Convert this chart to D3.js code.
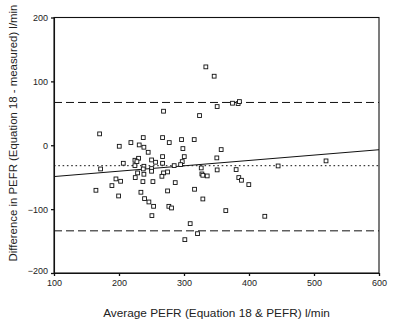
<!DOCTYPE html>
<html><head><meta charset="utf-8">
<script src="https://cdn.jsdelivr.net/npm/d3@7"></script>
<style>html,body{margin:0;padding:0;background:#fff;}svg{display:block;}</style>
</head><body>
<svg id="c" width="400" height="327"></svg>
<script>
const avgPEFR = [333.6,346.4,268.5,323.9,351,374.6,383.3,385.3,170.2,200.4,218.3,237.3,267,277.3,296.2,315.7,298.3,357.2,231.1,238.3,244.9,267,300.4,350.5,230.1,224.5,227.6,250.1,256.2,267,297.3,294.8,224.5,238.3,206.6,284.9,171.7,237.3,250.1,326.5,327.5,329,335.7,351,380.2,228.6,238.3,250.1,268.5,266,274.7,384.3,388.4,399.7,444.8,518.5,225,195.3,202.5,236.8,252.2,286.5,189.1,164.5,274.7,233.7,316.2,199.4,239.3,246,329,253.2,276.7,280.8,364.3,250.6,424.3,309.5,320.8,301.3];
const diffPEFR = [122.7,108.1,53.3,46.5,60.6,65.8,65.3,68.4,17.8,-1.6,4.2,12,12,4.2,8.9,8.9,-5.2,-6.8,0.5,-3.1,-11,-17.8,-17.8,-19.8,-20.4,-23.5,-25.6,-23,-26.6,-28.2,-25.6,-30.3,-31.9,-32.9,-28.2,-31.9,-37.1,-37.1,-36.5,-35.5,-44.9,-47,-48,-38.6,-38.1,-43.3,-45.4,-40.7,-43.3,-48.6,-41.8,-50.6,-54.8,-61.6,-32.4,-24.5,-50.6,-52.7,-56.4,-56.9,-56.9,-58.5,-63.2,-70.5,-71.5,-73.6,-68.9,-79.4,-83.6,-88.8,-84.1,-95.6,-95.6,-98.2,-102.3,-110.2,-111.2,-122.7,-138.4,-147.8];
const meanDiff = -32;
const upperLimit = 67;
const lowerLimit = -134;
const regX = [100, 600];
const regY = [-49, -7];
const xTicks = [100,200,300,400,500,600];
const yTicks = [200,100,0,-100,-200];
const xTitle = "Average PEFR (Equation 18 & PEFR) l/min";
const yTitle = "Difference in PEFR (Equation 18 - measured) l/min";

const svg = d3.select("#c");
const L = 54, R = 379, T = 17.5, B = 273;
const x = d3.scaleLinear().domain([100,600]).range([L,R]);
const y = d3.scaleLinear().domain([-200,200]).range([B,T]);
const font = "Liberation Sans, Arial, sans-serif";
const tc = "#222";

// frame
svg.append("rect").attr("x",L).attr("y",T).attr("width",R-L).attr("height",B-T)
  .attr("fill","none").attr("stroke","#111").attr("stroke-width",1.1);

// axes
const xa = svg.append("g").attr("transform",`translate(0,${B})`)
  .call(d3.axisBottom(x).tickValues(xTicks).tickSize(3).tickPadding(4).tickSizeOuter(0));
const ya = svg.append("g").attr("transform",`translate(${L},0)`)
  .call(d3.axisLeft(y).tickValues(yTicks).tickSize(3).tickPadding(3).tickSizeOuter(0));
[xa,ya].forEach(a=>{
  a.select(".domain").attr("stroke","#111").attr("stroke-width",1.1);
  a.selectAll(".tick line").attr("stroke","#111").attr("stroke-width",1.3);
  a.selectAll("text").attr("font-family",font).attr("font-size",9).attr("fill",tc);
});
ya.selectAll(".tick").filter(d=>d===-200).select("text").attr("dy","0.05em");

// reference lines
const hline = (v, dash) => svg.append("line")
  .attr("x1",x(100)).attr("x2",x(600)).attr("y1",y(v)).attr("y2",y(v))
  .attr("stroke","#111").attr("stroke-width",1).attr("stroke-dasharray",dash);
hline(upperLimit,"8,4");
hline(lowerLimit,"8,4");
hline(meanDiff,"1.6,2.7");
svg.append("line").attr("x1",x(regX[0])).attr("x2",x(regX[1]))
  .attr("y1",y(regY[0])).attr("y2",y(regY[1]))
  .attr("stroke","#111").attr("stroke-width",1);

// points
const s = 3.8;
svg.append("g").selectAll("rect").data(avgPEFR.map((a,i)=>[a,diffPEFR[i]])).join("rect")
  .attr("x",d=>x(d[0])-s/2).attr("y",d=>y(d[1])-s/2)
  .attr("width",s).attr("height",s)
  .attr("fill","#fff").attr("stroke","#111").attr("stroke-width",0.9);

// titles
svg.append("text").attr("x",216.5).attr("y",317).attr("text-anchor","middle")
  .attr("font-family",font).attr("font-size",11.8).attr("fill",tc).text(xTitle);
svg.append("text").attr("transform",`translate(17,133) rotate(-90)`)
  .attr("text-anchor","middle")
  .attr("font-family",font).attr("font-size",11.4).attr("fill",tc).text(yTitle);
</script>
</body></html>
